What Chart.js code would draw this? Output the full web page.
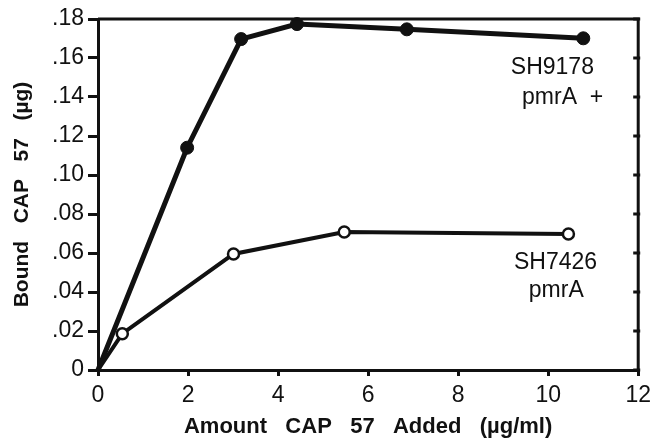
<!DOCTYPE html>
<html>
<head>
<meta charset="utf-8">
<script src="https://cdn.jsdelivr.net/npm/chart.js@4/dist/chart.umd.min.js"></script>
<style>
  html, body { margin: 0; padding: 0; background: #fff; }
  #wrap { width: 657px; height: 438px; }
</style>
</head>
<body>
<div id="wrap"><canvas id="bindChart"></canvas></div>
<script>
// CAP 57 binding
const PLUS_X  = [0, 1.98, 3.18, 4.42, 6.86, 10.78];
const PLUS_Y  = [0, 0.114, 0.1697, 0.1774, 0.1747, 0.1701];
const MINUS_X = [0, 0.54, 3.01, 5.47, 10.45];
const MINUS_Y = [0, 0.0186, 0.0595, 0.0708, 0.0697];

const X_TICKS = ['0', '2', '4', '6', '8', '10', '12'];
const Y_TICKS = ['0', '.02', '.04', '.06', '.08', '.10', '.12', '.14', '.16', '.18'];

const INK = '#111';
const FONT = 'Liberation Sans, Arial, Helvetica, sans-serif';

function pts(xs, ys) {
  return xs.map((x, i) => ({ x, y: ys[i] }));
}

// strain labels beside the curves (data coords)
const notes = [
  { text: 'SH9178',  x: 9.17, y: 0.1549 },
  { text: 'pmrA  +', x: 9.42, y: 0.1395 },
  { text: 'SH7426',  x: 9.24, y: 0.0549 },
  { text: 'pmrA',    x: 9.57, y: 0.0405 }
];

const framePlugin = {
  id: 'frame',
  afterDraw(chart) {
    const { ctx, chartArea: a, scales } = chart;
    ctx.save();
    ctx.strokeStyle = INK;
    ctx.lineWidth = 3;
    ctx.beginPath();
    ctx.moveTo(a.left, a.top);
    ctx.lineTo(a.right, a.top);
    ctx.lineTo(a.right, a.bottom);
    ctx.stroke();
    // right axis ticks
    scales.y.ticks.forEach(t => {
      const py = scales.y.getPixelForValue(t.value);
      ctx.beginPath();
      ctx.moveTo(a.right - 5, py);
      ctx.lineTo(a.right + 2, py);
      ctx.stroke();
    });
    // labels
    ctx.fillStyle = INK;
    ctx.font = '23px ' + FONT;
    ctx.textAlign = 'left';
    ctx.textBaseline = 'middle';
    notes.forEach(n => {
      ctx.fillText(n.text, scales.x.getPixelForValue(n.x), scales.y.getPixelForValue(n.y));
    });
    ctx.restore();
  }
};

new Chart(document.getElementById('bindChart').getContext('2d'), {
  type: 'line',
  data: {
    datasets: [{
      data: pts(PLUS_X, PLUS_Y),
      borderColor: INK,
      borderWidth: 5,
      backgroundColor: INK,
      pointBackgroundColor: INK,
      pointBorderColor: INK,
      pointRadius: c => c.parsed && c.parsed.x === 0 ? 0 : 6.5,
      pointBorderWidth: 1,
      tension: 0,
      clip: false
    }, {
      data: pts(MINUS_X, MINUS_Y),
      borderColor: INK,
      borderWidth: 4,
      pointBackgroundColor: '#fff',
      pointBorderColor: INK,
      pointRadius: c => c.parsed && c.parsed.x === 0 ? 0 : 5.5,
      pointBorderWidth: 2.5,
      tension: 0,
      clip: false
    }]
  },
  options: {
    responsive: true,
    maintainAspectRatio: false,
    animation: false,
    layout: { autoPadding: false, padding: { top: 19, right: 15, left: 0, bottom: 0 } },
    plugins: { legend: { display: false }, tooltip: { enabled: false } },
    scales: {
      x: {
        type: 'linear',
        min: 0,
        max: 12,
        afterFit: s => { s.height = 68; },
        ticks: {
          stepSize: 2,
          color: INK,
          padding: 6,
          font: { family: FONT, size: 23 },
          callback: (v, i) => X_TICKS[i]
        },
        grid: { drawOnChartArea: false, drawTicks: true, tickLength: 6, lineWidth: 3, color: INK },
        border: { display: true, width: 3, color: INK },
        title: {
          display: true,
          text: 'Amount   CAP   57   Added   (µg/ml)',
          color: INK,
          font: { family: FONT, size: 22, weight: 'bold', lineHeight: 1 },
          padding: { top: 0, bottom: 0 }
        }
      },
      y: {
        min: 0,
        max: 0.18,
        afterFit: s => { s.width = 98; },
        ticks: {
          stepSize: 0.02,
          color: INK,
          padding: 4,
          font: { family: FONT, size: 23 },
          callback: (v, i) => Y_TICKS[i]
        },
        grid: { drawOnChartArea: false, drawTicks: true, tickLength: 10, lineWidth: 3, color: INK },
        border: { display: true, width: 3, color: INK },
        title: {
          display: true,
          text: 'Bound   CAP   57   (µg)',
          color: INK,
          font: { family: FONT, size: 21, weight: 'bold', lineHeight: 1.2 },
          padding: { top: 10, bottom: 0 }
        }
      }
    }
  },
  plugins: [framePlugin]
});
</script>
</body>
</html>
